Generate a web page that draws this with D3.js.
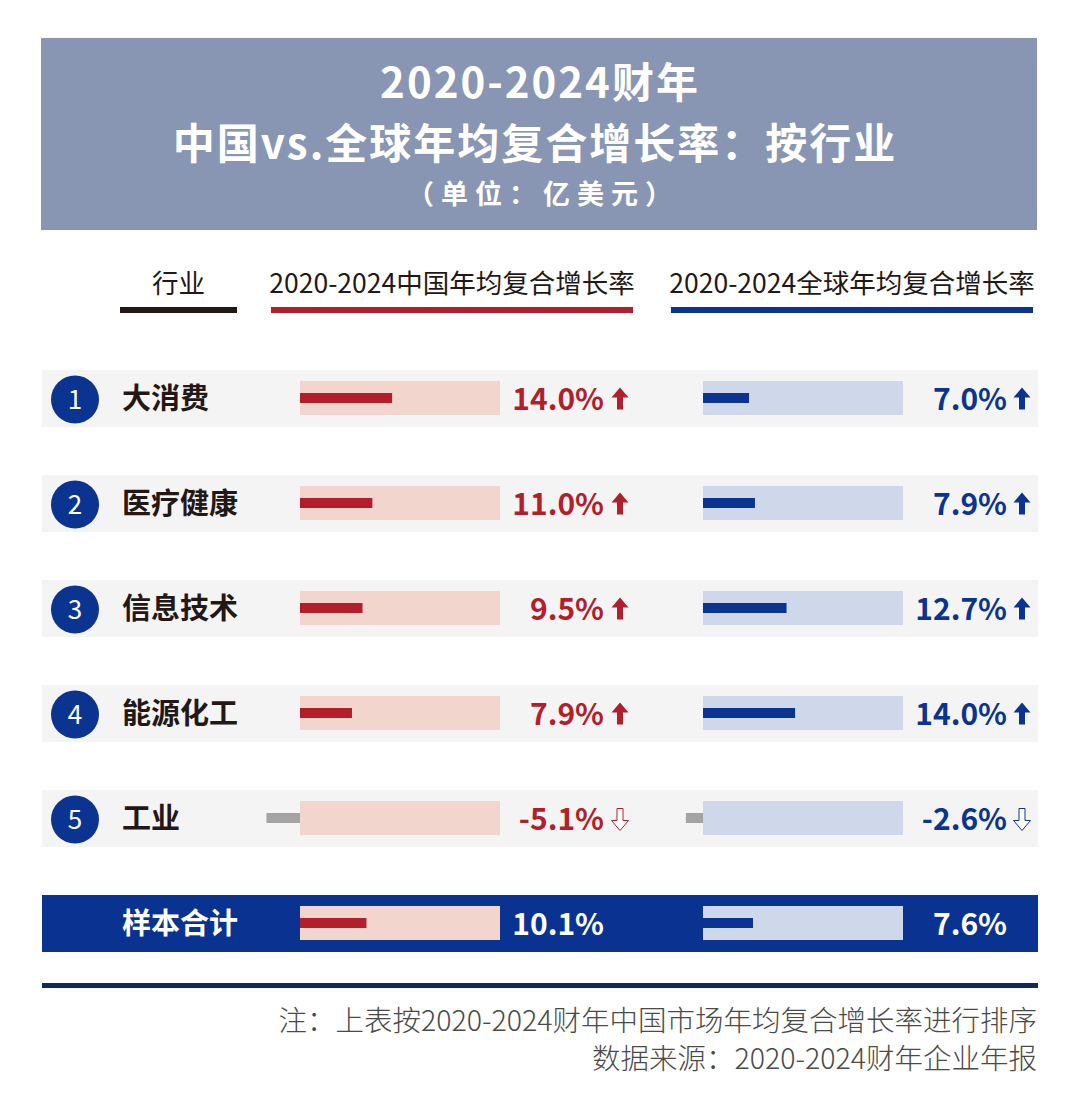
<!DOCTYPE html>
<html>
<head>
<meta charset="utf-8">
<script src="https://cdn.jsdelivr.net/npm/d3@7"></script>
<style>
  body { margin: 0; background: #fff; }
  svg { display: block; font-family: "Noto Sans CJK SC", "Noto Sans", sans-serif; }
</style>
</head>
<body>
<svg id="chart" width="1080" height="1112"></svg>
<script>
// data
const industries = ['大消费', '医疗健康', '信息技术', '能源化工', '工业'];
const chinaCagr = [14.0, 11.0, 9.5, 7.9, -5.1];
const globalCagr = [7.0, 7.9, 12.7, 14.0, -2.6];
const totalLabel = '样本合计';
const chinaTotal = 10.1;
const globalTotal = 7.6;
const titleLines = ['2020-2024财年', '中国vs.全球年均复合增长率：按行业'];
const unitLine = '（单位：亿美元）';
const colHeaders = ['行业', '2020-2024中国年均复合增长率', '2020-2024全球年均复合增长率'];
const notes = ['注：上表按2020-2024财年中国市场年均复合增长率进行排序', '数据来源：2020-2024财年企业年报'];

const RED = '#b31e2b', RED_BG = '#f2d6cd';
const BLUE = '#0b3491', BLUE_BG = '#cfd8ea';
const GREY = '#a4a4a4';

const svg = d3.select('#chart');

// header block
svg.append('rect').attr('x', 41).attr('y', 38).attr('width', 996).attr('height', 192).attr('fill', '#8896b3');
titleLines.forEach((t, i) => {
  svg.append('text').attr('x', i === 0 ? 540 : 535).attr('y', 98 + i * 61).attr('text-anchor', 'middle')
    .attr('font-size', 42).attr('font-weight', 700).attr('letter-spacing', 2).attr('fill', '#fff').text(t);
});
svg.append('text').attr('x', 543).attr('y', 204).attr('text-anchor', 'middle')
  .attr('font-size', 27).attr('font-weight', 700).attr('letter-spacing', 7).attr('fill', '#fff').text(unitLine);

// column headers
const cols = [
  { x0: 120, x1: 237, color: '#231815' },
  { x0: 271, x1: 633, color: RED },
  { x0: 671, x1: 1033, color: BLUE }
];
cols.forEach((c, i) => {
  svg.append('text').attr('x', (c.x0 + c.x1) / 2).attr('y', 293).attr('text-anchor', 'middle')
    .attr('font-size', 26.5).attr('fill', '#231815').text(colHeaders[i]);
  svg.append('rect').attr('x', c.x0).attr('y', 307).attr('width', c.x1 - c.x0).attr('height', 6).attr('fill', c.color);
});

// scales
const y = d3.scaleBand().domain(industries).range([370, 847]).paddingInner(48 / 105);
const x = d3.scaleLinear().domain([0, 30.4]).range([0, 200]);
const chinaX = 300, globalX = 703;

const rows = industries.map((name, i) => ({ name, i, cn: chinaCagr[i], gl: globalCagr[i] }));

const row = svg.append('g').selectAll('g').data(rows).enter().append('g')
  .attr('transform', d => `translate(0,${y(d.name)})`);

const bh = y.bandwidth();
row.append('rect').attr('x', 42).attr('width', 996).attr('height', bh).attr('fill', '#f4f4f4');
row.append('circle').attr('cx', 75).attr('cy', bh / 2 + 1).attr('r', 24).attr('fill', BLUE);
row.append('text').attr('x', 75).attr('y', bh / 2 + 10).attr('text-anchor', 'middle')
  .attr('font-size', 26).attr('fill', '#fff').text(d => d.i + 1);
row.append('text').attr('x', 122).attr('y', bh / 2 + 10)
  .attr('font-size', 29).attr('font-weight', 700).attr('fill', '#231815').text(d => d.name);

function drawBars(sel, x0, bg, fg, get) {
  sel.append('rect').attr('x', x0).attr('y', 11).attr('width', x(30.4)).attr('height', 34).attr('fill', bg);
  sel.append('rect')
    .attr('x', d => get(d) >= 0 ? x0 : x0 - x(-get(d)))
    .attr('y', 23).attr('height', 10)
    .attr('width', d => x(Math.abs(get(d))))
    .attr('fill', d => get(d) >= 0 ? fg : GREY);
}

function arrow(sel, cx, color, get) {
  sel.append('path')
    .attr('d', d => get(d) >= 0
      ? `M${cx},${bh / 2 - 11} L${cx + 8.5},${bh / 2 - 1} L${cx + 3},${bh / 2 - 1} L${cx + 3},${bh / 2 + 11} L${cx - 3},${bh / 2 + 11} L${cx - 3},${bh / 2 - 1} L${cx - 8.5},${bh / 2 - 1} Z`
      : `M${cx},${bh / 2 + 12} L${cx + 8.5},${bh / 2 + 2} L${cx + 3},${bh / 2 + 2} L${cx + 3},${bh / 2 - 10} L${cx - 3},${bh / 2 - 10} L${cx - 3},${bh / 2 + 2} L${cx - 8.5},${bh / 2 + 2} Z`)
    .attr('fill', d => get(d) >= 0 ? color : '#fff')
    .attr('stroke', d => get(d) >= 0 ? 'none' : color)
    .attr('stroke-width', 1);
}

drawBars(row, chinaX, RED_BG, RED, d => d.cn);
drawBars(row, globalX, BLUE_BG, BLUE, d => d.gl);

row.append('text').attr('x', 604).attr('y', bh / 2 + 11).attr('text-anchor', 'end')
  .attr('font-size', 30).attr('font-weight', 700).attr('fill', RED).text(d => d.cn.toFixed(1) + '%');
row.append('text').attr('x', 1007).attr('y', bh / 2 + 11).attr('text-anchor', 'end')
  .attr('font-size', 30).attr('font-weight', 700).attr('fill', BLUE).text(d => d.gl.toFixed(1) + '%');
arrow(row, 620, RED, d => d.cn);
arrow(row, 1022, BLUE, d => d.gl);

// total row
const tot = svg.append('g').attr('transform', 'translate(0,895)')
  .datum({ cn: chinaTotal, gl: globalTotal });
tot.append('rect').attr('x', 42).attr('width', 996).attr('height', bh).attr('fill', '#0a3391');
tot.append('text').attr('x', 122).attr('y', bh / 2 + 10)
  .attr('font-size', 29).attr('font-weight', 700).attr('fill', '#fff').text(totalLabel);
drawBars(tot, chinaX, RED_BG, RED, d => d.cn);
drawBars(tot, globalX, BLUE_BG, BLUE, d => d.gl);
tot.append('text').attr('x', 604).attr('y', bh / 2 + 11).attr('text-anchor', 'end')
  .attr('font-size', 30).attr('font-weight', 700).attr('fill', '#fff').text(d => d.cn.toFixed(1) + '%');
tot.append('text').attr('x', 1007).attr('y', bh / 2 + 11).attr('text-anchor', 'end')
  .attr('font-size', 30).attr('font-weight', 700).attr('fill', '#fff').text(d => d.gl.toFixed(1) + '%');

// bottom rule and notes
svg.append('rect').attr('x', 42).attr('y', 983).attr('width', 996).attr('height', 5).attr('fill', '#13295b');
notes.forEach((t, i) => {
  svg.append('text').attr('x', 1037).attr('y', 1031 + i * 38).attr('text-anchor', 'end')
    .attr('font-size', 28.5).attr('font-weight', 300).attr('fill', '#4a4a4a').text(t);
});
</script>
</body>
</html>
